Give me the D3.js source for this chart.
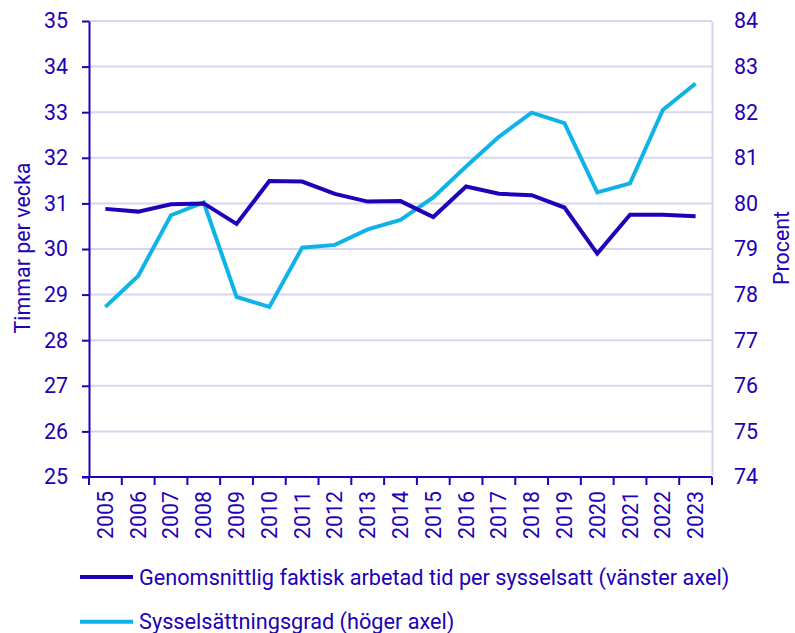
<!DOCTYPE html>
<html><head><meta charset="utf-8">
<script src="https://cdn.jsdelivr.net/npm/d3@7"></script>
<style>body{margin:0;background:#fff;font-family:Roboto,"Noto Sans",sans-serif;}</style>
</head><body><svg id="c" width="795" height="633"></svg>
<script>
const years = ["2005","2006","2007","2008","2009","2010","2011","2012","2013","2014","2015","2016","2017","2018","2019","2020","2021","2022","2023"];
const hours = [30.88,30.82,30.98,31.0,30.55,31.49,31.48,31.21,31.04,31.05,30.70,31.37,31.21,31.18,30.91,29.90,30.75,30.75,30.72];
const employment = [77.73,78.41,79.74,80.02,77.95,77.73,79.03,79.09,79.43,79.64,80.13,80.81,81.46,81.99,81.76,80.24,80.44,82.05,82.63];
const leftTicks = [25,26,27,28,29,30,31,32,33,34,35];
const rightTicks = [74,75,76,77,78,79,80,81,82,83,84];
const legendLabels = ["Genomsnittlig faktisk arbetad tid per sysselsatt (vänster axel)","Sysselsättningsgrad (höger axel)"];

const dark = "#2100B8", light = "#10B3E8", grid = "#D6D6F2";
const FS = "21.4px", LFS = "21.7px";
const svg = d3.select("#c");
const L = 89, R = 712, T = 21, B = 477;
const x = d3.scaleBand().domain(years).range([L, R]);
const yL = d3.scaleLinear().domain([25,35]).range([B, T]);
const yR = d3.scaleLinear().domain([74,84]).range([B, T]);

// gridlines
svg.append("g").selectAll("line").data(leftTicks.slice(1)).join("line")
  .attr("x1", L).attr("x2", R).attr("y1", d=>yL(d)).attr("y2", d=>yL(d))
  .attr("stroke", grid).attr("stroke-width", 2);

// right axis
const gR = svg.append("g").attr("transform", `translate(${R},0)`)
  .call(d3.axisRight(yR).tickValues(rightTicks).tickSize(0).tickPadding(22));
gR.select(".domain").attr("stroke", grid).attr("stroke-width", 2);
gR.selectAll("text").attr("fill", dark).style("font-size",FS).style("font-family","Roboto");

// left axis
const gL = svg.append("g").attr("transform", `translate(${L},0)`)
  .call(d3.axisLeft(yL).tickValues(leftTicks).tickSize(7).tickPadding(14).tickSizeOuter(0));
gL.select(".domain").attr("stroke", dark).attr("stroke-width", 2);
gL.selectAll(".tick line").attr("stroke", dark).attr("stroke-width", 2);
gL.selectAll("text").attr("fill", dark).style("font-size",FS).style("font-family","Roboto");

// x axis
const gX = svg.append("g").attr("transform", `translate(0,${B})`)
  .call(d3.axisBottom(x).tickSize(0).tickPadding(0));
gX.select(".domain").remove();
gX.append("line").attr("x1", L-7).attr("x2", R).attr("y1",0).attr("y2",0).attr("stroke", dark).attr("stroke-width",2);
const edges = years.map(d=>x(d)).concat([R]);
gX.selectAll(".edge").data(edges).join("line").attr("class","edge")
  .attr("x1", d=>d).attr("x2", d=>d).attr("y1",0).attr("y2",8).attr("stroke", dark).attr("stroke-width",2);
gX.selectAll(".tick text").attr("fill", dark).style("font-size",FS).style("font-family","Roboto")
  .attr("transform","rotate(-90)").attr("text-anchor","end").attr("dy","0.35em").attr("x",-14).attr("y",0);

// lines
const lineL = d3.line().x((d,i)=>x(years[i])+x.bandwidth()/2).y(d=>yL(d));
const lineR = d3.line().x((d,i)=>x(years[i])+x.bandwidth()/2).y(d=>yR(d));
svg.append("path").datum(employment).attr("d", lineR).attr("fill","none").attr("stroke", light).attr("stroke-width",4).attr("stroke-linejoin","miter");
svg.append("path").datum(hours).attr("d", lineL).attr("fill","none").attr("stroke", dark).attr("stroke-width",4).attr("stroke-linejoin","miter");

// axis titles
svg.append("text").attr("transform","translate(30,248) rotate(-90)").attr("text-anchor","middle")
  .attr("fill", dark).style("font-size",FS).style("font-family","Roboto").text("Timmar per vecka");
svg.append("text").attr("transform","translate(789,248) rotate(-90)").attr("text-anchor","middle")
  .attr("fill", dark).style("font-size",FS).style("font-family","Roboto").text("Procent");

// legend
const lg = svg.append("g");
[dark, light].forEach((c,i)=>{
  const yy = 577 + i*44.7;
  lg.append("line").attr("x1",80).attr("x2",133).attr("y1",yy).attr("y2",yy).attr("stroke",c).attr("stroke-width",4);
  lg.append("text").attr("x",139).attr("y",yy).attr("dy","0.35em").attr("fill",dark)
    .style("font-size",LFS).style("font-family","Roboto").text(legendLabels[i]);
});
</script></body></html>
